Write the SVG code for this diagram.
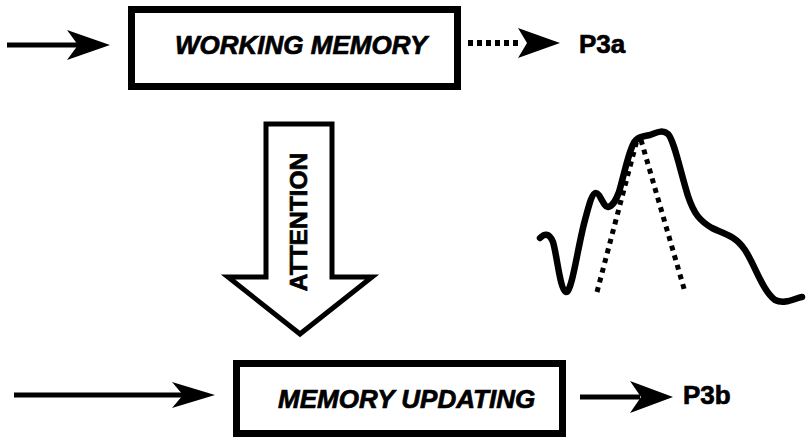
<svg xmlns="http://www.w3.org/2000/svg" width="806" height="438" viewBox="0 0 806 438">
<style>
.box{fill:#fff;stroke:#000;stroke-width:7}
.lbl{font-family:"Liberation Sans",Arial,sans-serif;font-weight:bold;font-style:italic;font-size:26px;fill:#000;stroke:#000;stroke-width:0.7}
.out{font-family:"Liberation Sans",Arial,sans-serif;font-weight:bold;font-size:26px;fill:#000;stroke:#000;stroke-width:0.7}
.line{stroke:#000;stroke-width:5;fill:none}
.head{fill:#000}
.dot{stroke:#000;stroke-width:6;stroke-dasharray:5 4;fill:none}
</style>
<rect width="806" height="438" fill="#fff"/>
<g id="connectors">
  <g id="in-top">
    <line class="line" x1="7" y1="45" x2="80" y2="45"/>
    <polygon class="head" points="110,45 67,30 78,45 67,60"/>
  </g>
  <g id="wm-p3a">
    <line class="dot" x1="468" y1="43" x2="520" y2="43"/>
    <polygon class="head" points="560,43 518,28 527,43 518,58"/>
  </g>
  <g id="in-bottom">
    <line class="line" x1="14" y1="395" x2="185" y2="395"/>
    <polygon class="head" points="215,395 172,382 183,395 172,408"/>
  </g>
  <g id="mu-p3b">
    <line class="line" x1="580" y1="397" x2="640" y2="397"/>
    <polygon class="head" points="673,397 630,381 641,397 630,413"/>
  </g>
</g>
<g id="working-memory">
  <rect class="box" x="131.5" y="9.5" width="326" height="77"/>
  <text class="lbl" x="175" y="54">WORKING MEMORY</text>
</g>
<g id="p3a">
  <text class="out" x="579" y="53">P3a</text>
</g>
<g id="attention">
  <polygon points="266,124 332,124 332,277 372,277 300,334 228,277 266,277" fill="#fff" stroke="#000" stroke-width="5" stroke-linejoin="miter"/>
  <text class="out" text-anchor="middle" transform="translate(307,222) rotate(-90)" style="font-size:24.5px">ATTENTION</text>
</g>
<g id="memory-updating">
  <rect class="box" x="236.5" y="363.5" width="326" height="70"/>
  <text class="lbl" x="278" y="408">MEMORY UPDATING</text>
</g>
<g id="p3b">
  <text class="out" x="683" y="404">P3b</text>
</g>
<g id="waveform">
  <path d="M540,238 C544,234 549,232 553,242 C557,255 560,290 566,292 C572,293 578,245 585,220 C589,205 592,193 596,193 C600,193 604,208 608,207 C613,206 616,200 619,192 C624,175 630,145 636,140 C640,136 645,136 650,135 C656,133 662,129 668,134 C674,140 680,170 688,196 C694,214 700,221 712,228 C722,233 735,235 745,250 C755,265 762,290 775,300 C785,305 795,298 802,297" fill="none" stroke="#000" stroke-width="6.5" stroke-linecap="round" stroke-linejoin="round"/>
  <line x1="597" y1="292" x2="637" y2="140" stroke="#000" stroke-width="5" stroke-dasharray="5 5"/>
  <line x1="641" y1="140" x2="685" y2="292" stroke="#000" stroke-width="5" stroke-dasharray="5 5"/>
</g>
</svg>
